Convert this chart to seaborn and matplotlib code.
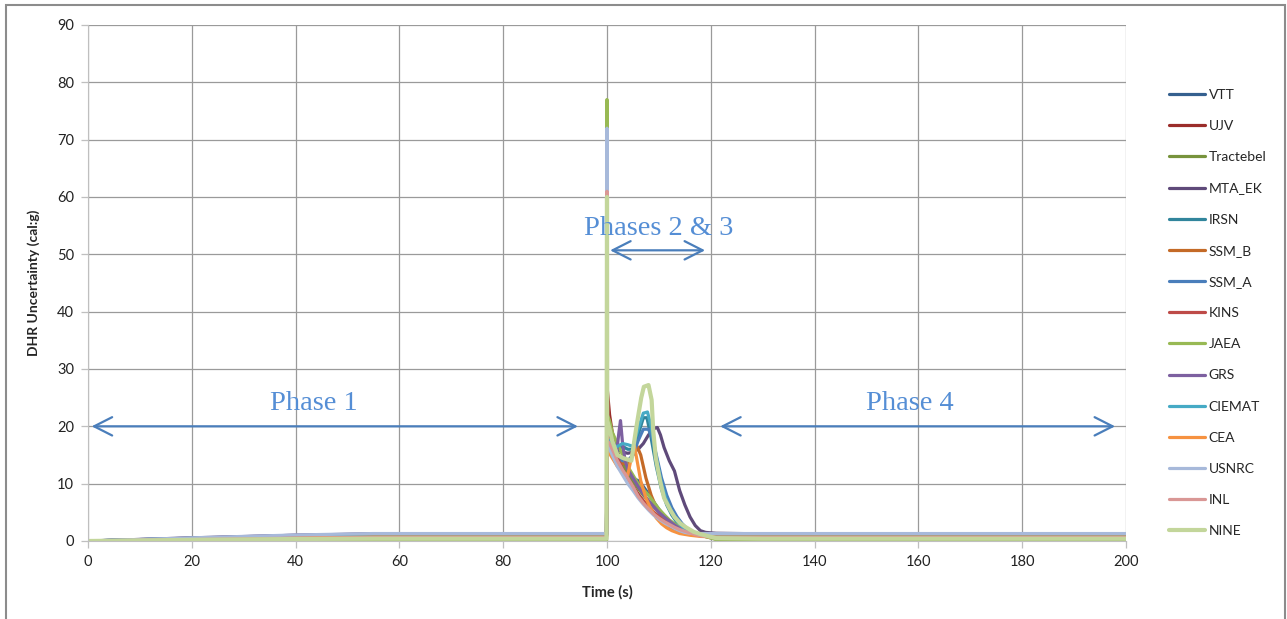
import pandas as pd
import numpy as np
import matplotlib
matplotlib.use('Agg')
import matplotlib.pyplot as plt
import seaborn as sns
from matplotlib.patches import Rectangle

# series, in legend order (last one is drawn on top)
labels = ['VTT', 'UJV', 'Tractebel', 'MTA_EK', 'IRSN', 'SSM_B', 'SSM_A', 'KINS',
          'JAEA', 'GRS', 'CIEMAT', 'CEA', 'USNRC', 'INL', 'NINE']
colors = ['#35608F', '#9B2D2A', '#77933C', '#5F4A7A', '#31859C', '#C46A27', '#4A7EBB', '#BE4B48',
          '#98B954', '#7D60A0', '#46AAC5', '#F69240', '#A7B9DA', '#D99795', '#C3D69B']

# phase 1 ramp (t = 0, 20, 40, 55, 99.9)
p1_time = [0, 20, 40, 55, 99.9]
p1_at20 = [0.5, 0.4, 0.05, 0.55, 0.45, 0.35, 0.45, 0.4, 0.07, 0.5, 0.45, 0.3, 0.55, 0.25, 0.2]
p1_at40 = [0.9, 0.75, 0.08, 1.0, 0.85, 0.6, 0.8, 0.7, 0.12, 1.0, 0.85, 0.55, 1.05, 0.5, 0.35]
p1_plateau = [1.1, 0.9, 0.1, 1.25, 1.05, 0.75, 1.0, 0.85, 0.15, 1.2, 1.0, 0.7, 1.3, 0.6, 0.4]

# phase 4 level (t = 130, 200)
p4_time = [130, 200]
p4_level = [1.1, 0.9, 0.1, 1.25, 1.05, 0.75, 1.0, 0.85, 0.15, 1.2, 1.0, 0.7, 1.3, 0.6, 0.4]

# phases 2 & 3 transients
vtt_t = [100, 101, 102, 103, 104, 105, 106, 107, 108, 109, 110, 111, 112, 113, 114, 115, 116, 117, 118, 121]
vtt_y = [18, 16, 14, 12.5, 11.5, 11, 10.5, 9.5, 8.2, 6.8, 5.5, 4.3, 3.4, 2.6, 2.0, 1.6, 1.4, 1.25, 1.2, 1.2]
ujv_t = [100, 100.5, 101, 102, 103, 104, 105, 106, 107, 108, 109, 110, 111, 112, 113, 114, 115, 116, 117, 118, 121]
ujv_y = [27, 22, 19, 15.5, 13, 11.2, 9.6, 8.2, 7, 6, 5, 4.2, 3.5, 2.9, 2.4, 2, 1.6, 1.3, 1.1, 1.0, 0.95]
tractebel_t = [100, 100.5, 101, 102, 103, 104, 105, 106, 107, 108, 109, 110, 111, 112, 113, 114, 115, 116, 117, 118, 121]
tractebel_y = [20, 19, 17.5, 15.5, 13.5, 12, 10.5, 9.2, 8, 7, 6, 5, 4.2, 3.4, 2.8, 2.2, 1.8, 1.4, 1.2, 1.0, 0.3]
mta_t = [100, 101, 102, 103, 104, 105, 106, 107, 108, 109, 109.7, 110.3, 111, 112, 113, 114, 115, 116, 117, 118, 119, 121]
mta_y = [17.5, 16.5, 16, 15.5, 15.3, 15.5, 16, 17, 18.5, 19.6, 19.8, 18.5, 16.3, 14, 12.2, 8.8, 6.3, 4.2, 2.7, 1.8, 1.5, 1.35]
irsn_t = [100, 101, 102, 103, 104, 105, 106, 107, 107.7, 108.5, 109.5, 110.5, 111.5, 112.5, 113.5, 114.5, 115.5, 116.5, 118, 121]
irsn_y = [20, 17.5, 16, 16.5, 16, 16, 18.5, 21.5, 21.5, 18, 13, 9, 6.3, 4.5, 3.2, 2.3, 1.7, 1.3, 1.15, 1.1]
ssmb_t = [100, 101, 102, 103, 104, 105, 105.8, 106.5, 107.5, 108.5, 109.5, 110.5, 111.5, 112.5, 113.5, 115, 117, 121]
ssmb_y = [17.5, 16, 14.5, 13.5, 13.5, 15, 16.5, 15, 11, 8, 5.8, 4.2, 3, 2.2, 1.7, 1.3, 1.0, 0.8]
ssma_t = [100, 101, 102, 103, 104, 105, 106, 107, 108, 108.7, 109.5, 110.5, 111.5, 112.5, 113.5, 114.5, 115.5, 116.5, 117.5, 121]
ssma_y = [17, 15.5, 14.5, 14, 14, 15, 17.5, 19.5, 19.5, 18, 15, 11, 8, 5.8, 4.2, 3, 2.1, 1.5, 1.2, 1.05]
kins_t = [100, 100.5, 101, 102, 103, 104, 105, 106, 107, 108, 109, 110, 111, 112, 113, 114, 115, 116, 117, 118, 121]
kins_y = [20, 19, 17, 14.5, 12.5, 11, 9.5, 8, 7, 6, 5, 4.2, 3.5, 3, 2.5, 2, 1.7, 1.4, 1.2, 1.0, 0.9]
jaea_t = [100, 100.05, 100.5, 101, 102, 103, 104, 105, 106, 107, 108, 109, 110, 111, 112, 113, 114, 115, 116, 117, 118, 121]
jaea_y = [77, 22, 21, 19, 17, 15, 13, 11.5, 10, 9, 8, 6.8, 5.6, 4.6, 3.7, 3.0, 2.4, 1.9, 1.5, 1.2, 1.0, 0.3]
grs_t = [100, 101, 101.8, 102.3, 102.6, 103, 103.5, 104, 105, 106, 107, 108, 109, 110, 111, 112, 113, 114, 115, 116, 117, 121]
grs_y = [17, 15.5, 15, 19, 21, 17, 14, 12.5, 11, 9.5, 8.2, 7, 6, 5, 4.2, 3.5, 2.8, 2.2, 1.8, 1.5, 1.3, 1.25]
ciemat_t = [100, 101, 102, 103, 104, 105, 106, 107, 107.8, 108.5, 109.5, 110.5, 111.5, 112.5, 113.5, 114.5, 115.5, 116.5, 118, 121]
ciemat_y = [18, 16.5, 16.5, 17, 16.8, 16.5, 19.5, 22.3, 22.5, 20, 14.5, 10, 7, 5, 3.5, 2.5, 1.8, 1.4, 1.1, 1.0]
cea_t = [100, 101, 102, 103, 104, 104.8, 105.3, 105.8, 106.5, 107.5, 108.5, 109.5, 110.5, 111.5, 112.5, 114, 116, 118, 121]
cea_y = [16, 14.5, 13, 12, 11.5, 15, 16.5, 14, 10.5, 7.5, 5.5, 4, 3, 2.3, 1.8, 1.3, 1.0, 0.8, 0.7]
usnrc_t = [100, 100.05, 100.5, 101, 102, 103, 104, 105, 106, 107, 108, 109, 110, 111, 112, 113, 114, 115, 116, 117, 118, 121]
usnrc_y = [72, 17, 16, 15, 13, 11.5, 10, 8.8, 7.5, 6.4, 5.4, 4.5, 3.8, 3.2, 2.7, 2.2, 1.8, 1.5, 1.35, 1.3, 1.3, 1.3]
inl_t = [100, 100.05, 100.5, 101, 102, 103, 104, 105, 106, 107, 108, 109, 110, 111, 112, 113, 114, 115, 116, 117, 118, 121]
inl_y = [61, 17.5, 17, 16, 14, 12.4, 11, 9.5, 7.8, 6.6, 5.6, 4.7, 4.0, 3.4, 2.9, 2.4, 2.0, 1.7, 1.4, 1.1, 0.9, 0.6]
nine_t = [100, 100.05, 100.5, 101, 102, 103, 104, 104.7, 105.1, 105.6, 106.1, 106.6, 107.1, 108, 108.6, 108.9, 109.4, 110.2, 111, 112.2, 113, 114.1, 115, 116.7, 118, 121]
nine_y = [60, 21, 19.5, 17.5, 15, 14.5, 14.2, 14.0, 16.5, 19.5, 22.3, 25, 26.9, 27.2, 24.6, 19.3, 14.5, 10.6, 7.5, 5.4, 4.2, 3.1, 2.5, 1.6, 1.2, 0.5]

transients = [(vtt_t, vtt_y), (ujv_t, ujv_y), (tractebel_t, tractebel_y), (mta_t, mta_y),
              (irsn_t, irsn_y), (ssmb_t, ssmb_y), (ssma_t, ssma_y), (kins_t, kins_y),
              (jaea_t, jaea_y), (grs_t, grs_y), (ciemat_t, ciemat_y), (cea_t, cea_y),
              (usnrc_t, usnrc_y), (inl_t, inl_y), (nine_t, nine_y)]

rows = []
for i, lab in enumerate(labels):
    t2, y2 = transients[i]
    ts = p1_time + t2 + p4_time
    ys = [0, p1_at20[i], p1_at40[i], p1_plateau[i], p1_plateau[i]] + y2 + [p4_level[i], p4_level[i]]
    for t, y in zip(ts, ys):
        rows.append({'time': t, 'value': y, 'lab': lab})
df = pd.DataFrame(rows)

sns.set_style('white')
plt.rcParams['font.family'] = ['Lato', 'DejaVu Sans']

fig = plt.figure(figsize=(12.87, 6.19), dpi=100)
ax = fig.add_axes([88 / 1287, 78 / 619, (1126 - 88) / 1287, (541 - 25) / 619])

sns.lineplot(data=df, x='time', y='value', hue='lab', hue_order=labels,
             palette=dict(zip(labels, colors)), estimator=None, sort=False,
             linewidth=2.3, legend=False, ax=ax)
ax.lines[-1].set_linewidth(3.0)

ax.set_xlim(0, 200)
ax.set_ylim(0, 90)
ax.set_xticks(range(0, 201, 20))
ax.set_yticks(range(0, 91, 10))
ax.grid(True, color='#9a9a9a', linewidth=0.9)
ax.set_axisbelow(True)
for side in ['left', 'bottom']:
    ax.spines[side].set_color('#bfbfbf')
for side in ['top', 'right']:
    ax.spines[side].set_visible(False)
ax.tick_params(axis='both', direction='out', length=5, width=0.9, color='#bfbfbf',
               labelsize=10.5, labelcolor='#222222', left=True, bottom=True, pad=5)
ax.set_xlabel('Time (s)', fontsize=10.5, fontweight='bold', labelpad=12)
ax.set_ylabel('DHR Uncertainty (cal:g)', fontsize=10, fontweight='bold', labelpad=12)

# phase annotations
txt_color = '#558ED5'
arr_color = '#4A7EBB'
arrow = dict(arrowstyle='<->,head_length=0.65,head_width=0.33', color=arr_color,
             lw=1.6, mutation_scale=20, shrinkA=0, shrinkB=0)
ax.annotate('', xy=(0.7, 20), xytext=(94.4, 20), arrowprops=arrow)
ax.annotate('', xy=(100.6, 50.7), xytext=(118.9, 50.7), arrowprops=arrow)
ax.annotate('', xy=(121.8, 20), xytext=(197.9, 20), arrowprops=arrow)
serif = ['Liberation Serif', 'DejaVu Serif']
ax.text(43.6, 22.9, 'Phase 1', color=txt_color, fontsize=20.5, family=serif, ha='center', va='baseline')
ax.text(110.0, 53.4, 'Phases 2 & 3', color=txt_color, fontsize=20.5, family=serif, ha='center', va='baseline')
ax.text(158.4, 22.9, 'Phase 4', color=txt_color, fontsize=20.5, family=serif, ha='center', va='baseline')

leg = fig.legend(handles=ax.lines[:len(labels)], labels=labels, loc='upper left',
                 bbox_to_anchor=(1162 / 1287, 1 - 82 / 619), frameon=False, fontsize=10,
                 handlelength=2.6, handletextpad=0.25, labelspacing=1.38, borderpad=0)

fig.patches.append(Rectangle((6 / 1287, -0.05), (1285 - 6) / 1287, 1.05 - 5 / 619,
                             transform=fig.transFigure, fill=False, edgecolor='#8c8c8c', linewidth=1.5))

fig.savefig('out.png', dpi=100)
